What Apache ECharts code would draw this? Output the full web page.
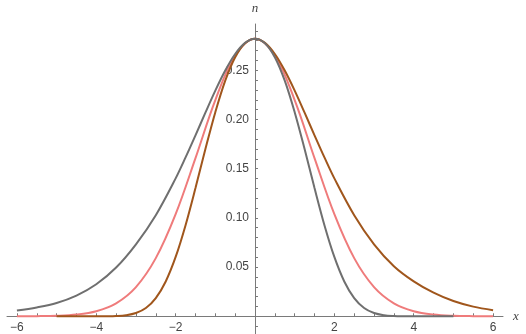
<!DOCTYPE html>
<html>
<head>
<meta charset="utf-8">
<script src="https://cdn.jsdelivr.net/npm/echarts@6/dist/echarts.min.js"></script>
<style>
  html, body { margin: 0; padding: 0; background: #ffffff; }
  #chart { width: 526px; height: 334px; }
</style>
</head>
<body>
<div id="chart"></div>
<script>
// values
const pinkX = [-6, -5.5, -5, -4.5, -4, -3.5, -3, -2.5, -2, -1.5, -1, -0.5, 0,
  0.5, 1, 1.5, 2, 2.5, 3, 3.5, 4, 4.5, 5, 5.5, 6];
const pinkY = [0.00003, 0.00015, 0.00054, 0.0018, 0.0052, 0.0132, 0.0297, 0.0591, 0.1038, 0.1607, 0.2197, 0.2650, 0.2821,
  0.2650, 0.2197, 0.1607, 0.1038, 0.0591, 0.0297, 0.0132, 0.0052, 0.0018, 0.00054, 0.00015, 0.00003];

const brownX = [-5, -4.5, -4, -3.75, -3.5, -3.25, -3, -2.75, -2.5, -2.25, -2, -1.75, -1.5, -1.25, -1, -0.75, -0.5, -0.25, 0,
  0.25, 0.5, 0.75, 1, 1.25, 1.5, 1.75, 2, 2.5, 3, 3.5, 4, 4.5, 5, 5.5, 6];
const brownY = [0, 0, 0.00001, 0.00006, 0.0003, 0.0011, 0.0033, 0.0084, 0.0185, 0.0354, 0.0603, 0.0926, 0.1303, 0.1699, 0.2074, 0.2395, 0.2633, 0.2775, 0.2821,
  0.2779, 0.2665, 0.2497, 0.2293, 0.2069, 0.1839, 0.1614, 0.1401, 0.1027, 0.0731, 0.0509, 0.0355, 0.0240, 0.0155, 0.0098, 0.0062];

const grayX = [-6, -5.5, -5, -4.5, -4, -3.5, -3, -2.5, -2, -1.75, -1.5, -1.25, -1, -0.75, -0.5, -0.25, 0,
  0.25, 0.5, 0.75, 1, 1.25, 1.5, 1.75, 2, 2.25, 2.5, 2.75, 3, 3.25, 3.5, 3.75, 4, 4.5, 5];
const grayY = [0.0058, 0.0090, 0.0135, 0.0210, 0.0325, 0.0495, 0.0731, 0.1027, 0.1401, 0.1614, 0.1839, 0.2069, 0.2293, 0.2497, 0.2665, 0.2779, 0.2821,
  0.2775, 0.2633, 0.2395, 0.2074, 0.1699, 0.1303, 0.0926, 0.0603, 0.0354, 0.0185, 0.0084, 0.0033, 0.0011, 0.0003, 0.00006, 0.00001, 0, 0];

const xTickLabels = [-6, -4, -2, 2, 4, 6];
const xTicks = [-6, -5.5, -5, -4.5, -4, -3.5, -3, -2.5, -2, -1.5, -1, -0.5,
  0.5, 1, 1.5, 2, 2.5, 3, 3.5, 4, 4.5, 5, 5.5, 6];
const yTickLabels = [0.05, 0.10, 0.15, 0.20, 0.25];
const yTicks = [-0.01, 0.01, 0.02, 0.03, 0.04, 0.05, 0.06, 0.07, 0.08, 0.09, 0.10,
  0.11, 0.12, 0.13, 0.14, 0.15, 0.16, 0.17, 0.18, 0.19, 0.20,
  0.21, 0.22, 0.23, 0.24, 0.25, 0.26, 0.27, 0.28, 0.29];

function pairs(xs, ys) {
  return xs.map((x, i) => [x, ys[i]]);
}

const W = 526;
const H = 334;
const gridLeft = 7;
const gridRight = 23;
const gridTop = 24;
const gridBottom = 0;
const xMin = -6.25;
const xMax = 6.25;
const yMin = -0.018;
const yMax = 0.297;
// move both axes from the grid edges to the origin
const yAxisShift = (0 - xMin) / (xMax - xMin) * (W - gridLeft - gridRight);
const xAxisShift = (0 - yMin) / (yMax - yMin) * (H - gridTop - gridBottom);

const axisColor = "#7a7a7a";
const labelStyle = { color: "#444444", fontSize: 12, fontFamily: "Liberation Sans, Arial, sans-serif" };
const nameStyle = { color: "#444444", fontSize: 13, fontStyle: "italic", fontFamily: "Liberation Serif, serif" };

function curve(name, xs, ys, color) {
  return {
    type: "line",
    name: name,
    data: pairs(xs, ys),
    showSymbol: false,
    smooth: 0.35,
    lineStyle: { color: color, width: 2 },
    itemStyle: { color: color }
  };
}

const chart = echarts.init(document.getElementById("chart"), null, { renderer: "canvas" });
chart.setOption({
  animation: false,
  backgroundColor: "#ffffff",
  grid: { left: gridLeft, right: gridRight, top: gridTop, bottom: gridBottom, containLabel: false, outerBoundsMode: "none" },
  xAxis: {
    type: "value",
    min: xMin,
    max: xMax,
    offset: -xAxisShift,
    name: "x",
    nameLocation: "end",
    nameGap: 10,
    nameTextStyle: nameStyle,
    splitLine: { show: false },
    axisLine: { onZero: false, lineStyle: { color: axisColor, width: 1 } },
    axisTick: { inside: true, length: 3, customValues: xTicks, lineStyle: { color: axisColor } },
    axisLabel: Object.assign({
      margin: 5,
      customValues: xTickLabels,
      formatter: (v) => (v < 0 ? "\u2212" + Math.abs(v) : String(v))
    }, labelStyle)
  },
  yAxis: {
    type: "value",
    min: yMin,
    max: yMax,
    offset: -yAxisShift,
    name: "n",
    nameLocation: "end",
    nameGap: 9,
    nameTextStyle: nameStyle,
    splitLine: { show: false },
    axisLine: { onZero: false, lineStyle: { color: axisColor, width: 1 } },
    axisTick: { inside: true, length: 3, customValues: yTicks, lineStyle: { color: axisColor } },
    axisLabel: Object.assign({
      margin: 6,
      customValues: yTickLabels,
      formatter: (v) => v.toFixed(2)
    }, labelStyle)
  },
  series: [
    curve("pink", pinkX, pinkY, "#ef7b7b"),
    curve("brown", brownX, brownY, "#a0561c"),
    curve("gray", grayX, grayY, "#6f6f6f")
  ]
});
</script>
</body>
</html>
